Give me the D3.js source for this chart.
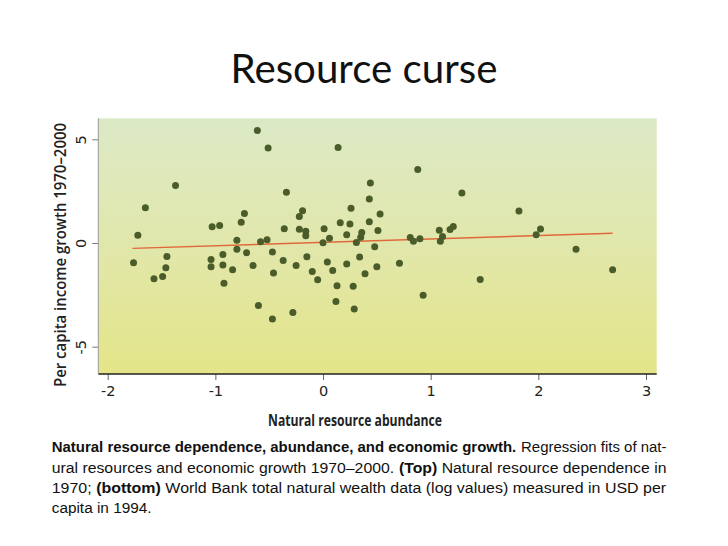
<!DOCTYPE html>
<html>
<head>
<meta charset="utf-8">
<script src="https://cdn.jsdelivr.net/npm/d3@7/dist/d3.min.js"></script>
<style>
  html, body { margin: 0; padding: 0; background: #ffffff; }
  svg { display: block; }
</style>
</head>
<body>
<svg id="chart" width="728" height="546"></svg>
<script>
// ---- data ----
const title = "Resource curse";
const xLabel = "Natural resource abundance";
const yLabel = "Per capita income growth 1970–2000";
const xTicks = [-2, -1, 0, 1, 2, 3];
const yTicks = [-5, 0, 5];

const abundance = [
  -0.61, -0.51, 0.14, 0.88, -1.37, -0.34, 0.44, 0.43, 1.29, -1.65,
  0.26, 1.82, -0.73, -0.19, -0.22, 0.53, -0.76, 0.16, 0.25, 0.43,
  -1.03, -0.96, -0.36, -0.22, -0.16, -0.16, 0.01, 0.06, 0.22, 0.36,
  0.35, 0.51, -1.72, -0.80, -0.58, -0.52, 0.00, 0.31, 0.81, 0.84,
  0.90, 1.08, 1.11, 1.09, 1.18, 1.21, 1.98, 2.02, 2.35, 2.69,
  -1.76, -1.45, -1.46, -1.57, -1.49, -1.04, -1.04, -0.93, -0.93, -0.92,
  -0.84, -0.80, -0.71, -0.65, -0.47, -0.46, -0.60, -0.47, -0.37, -0.25,
  -0.28, -0.15, -0.10, -0.05, 0.04, 0.09, 0.13, 0.12, 0.22, 0.28,
  0.29, 0.34, 0.39, 0.48, 0.50, 0.71, 0.93, 1.46
];
const growth = [
  5.43, 4.58, 4.61, 3.54, 2.77, 2.45, 2.89, 2.12, 2.41, 1.70,
  1.67, 1.54, 1.42, 1.56, 1.28, 1.40, 1.00, 0.98, 0.92, 1.03,
  0.78, 0.84, 0.69, 0.66, 0.57, 0.35, 0.69, 0.23, 0.40, 0.51,
  0.28, 0.60, 0.37, 0.13, 0.06, 0.16, 0.01, 0.03, 0.26, 0.08,
  0.21, 0.61, 0.31, 0.08, 0.65, 0.79, 0.40, 0.68, -0.30, -1.29,
  -0.95, -0.65, -1.19, -1.72, -1.61, -0.80, -1.15, -0.55, -1.06, -1.94,
  -1.29, -0.30, -0.47, -1.09, -0.43, -1.45, -3.01, -3.67, -0.84, -1.08,
  -3.35, -0.66, -1.37, -1.77, -0.92, -1.32, -2.06, -2.82, -1.01, -2.08,
  -3.18, -0.68, -1.48, -0.18, -1.14, -0.98, -2.52, -1.76
];
// regression fit end points
const fitX = [-1.77, 2.69];
const fitY = [-0.26, 0.47];

const captionLines = [
  [["Natural resource dependence, abundance, and economic growth.", true], ["Regression fits of nat-", false]],
  [["ural resources and economic growth 1970–2000.", false], ["(Top)", true], ["Natural resource dependence in", false]],
  [["1970;", false], ["(bottom)", true], ["World Bank total natural wealth data (log values) measured in USD per", false]],
  [["capita in 1994.", false]]
];

// ---- drawing ----
const svg = d3.select("#chart");
const plot = { left: 98.3, right: 656.7, top: 118.3, bottom: 374 };

const x = d3.scaleLinear().domain([-2, 3]).range([107.7, 646]);
const y = d3.scaleLinear().domain([-5, 5]).range([346.7, 139.3]);
const fmt = d => d < 0 ? "-" + Math.abs(d) : String(d);

// background gradient
const defs = svg.append("defs");
const grad = defs.append("linearGradient").attr("id", "bg")
  .attr("x1", 0).attr("y1", 0).attr("x2", 0).attr("y2", 1);
grad.append("stop").attr("offset", "0%").attr("stop-color", "#dce9c6");
grad.append("stop").attr("offset", "50%").attr("stop-color", "#e1e7ab");
grad.append("stop").attr("offset", "100%").attr("stop-color", "#e4e588");

svg.append("rect")
  .attr("x", plot.left).attr("y", plot.top)
  .attr("width", plot.right - plot.left).attr("height", plot.bottom - plot.top)
  .attr("fill", "url(#bg)");

// title
svg.append("text")
  .attr("x", 364).attr("y", 83.3)
  .attr("text-anchor", "middle")
  .attr("font-family", "Lato, 'Open Sans', sans-serif")
  .attr("font-size", 41)
  .attr("fill", "#111")
  .attr("textLength", 267).attr("lengthAdjust", "spacingAndGlyphs")
  .text(title);

// x axis
const xAxis = d3.axisBottom(x).tickValues(xTicks).tickSize(6).tickPadding(6)
  .tickFormat(fmt);
const gx = svg.append("g").attr("transform", `translate(0,${plot.bottom})`).call(xAxis);
gx.select(".domain").remove();
gx.selectAll(".tick line").attr("stroke", "#666");
gx.selectAll(".tick text")
  .attr("font-family", "'DejaVu Sans', Verdana, sans-serif")
  .attr("font-size", 14.5).attr("fill", "#222");
svg.append("line")
  .attr("x1", plot.left).attr("x2", plot.right)
  .attr("y1", plot.bottom).attr("y2", plot.bottom)
  .attr("stroke", "#222").attr("stroke-width", 1.3);

// y axis (tick labels rotated like the reference)
const yAxis = d3.axisLeft(y).tickValues(yTicks).tickSize(6).tickPadding(5).tickFormat(fmt);
const gy = svg.append("g").attr("transform", `translate(${plot.left},0)`).call(yAxis);
gy.select(".domain").remove();
gy.selectAll(".tick line").attr("stroke", "#777");
gy.selectAll(".tick text")
  .attr("font-family", "'DejaVu Sans', Verdana, sans-serif")
  .attr("font-size", 14.5).attr("fill", "#222")
  .attr("text-anchor", "middle")
  .attr("x", 0).attr("y", -12).attr("dy", 0)
  .attr("transform", "rotate(-90)");
svg.append("line")
  .attr("x1", plot.left).attr("x2", plot.left)
  .attr("y1", plot.top).attr("y2", plot.bottom)
  .attr("stroke", "#999").attr("stroke-width", 1);

// axis labels
svg.append("text")
  .attr("x", 355).attr("y", 426)
  .attr("text-anchor", "middle")
  .attr("font-family", "'Open Sans', 'Noto Sans', sans-serif")
  .attr("font-weight", 700)
  .attr("font-size", 15.5).attr("fill", "#222")
  .attr("textLength", 174).attr("lengthAdjust", "spacingAndGlyphs")
  .text(xLabel);

svg.append("text")
  .attr("transform", "translate(66,255) rotate(-90)")
  .attr("text-anchor", "middle")
  .attr("font-family", "'Open Sans', 'Noto Sans', sans-serif")
  .attr("font-weight", 600)
  .attr("font-size", 16).attr("fill", "#222")
  .attr("textLength", 264).attr("lengthAdjust", "spacingAndGlyphs")
  .text(yLabel);

// regression line
svg.append("line")
  .attr("x1", x(fitX[0])).attr("y1", y(fitY[0]))
  .attr("x2", x(fitX[1])).attr("y2", y(fitY[1]))
  .attr("stroke", "#e0683a").attr("stroke-width", 1.4);

// points
svg.append("g").selectAll("circle")
  .data(abundance.map((a, i) => [a, growth[i]]))
  .join("circle")
  .attr("cx", d => x(d[0])).attr("cy", d => y(d[1]))
  .attr("r", 3.5)
  .attr("fill", "#4a5c29");

// caption: each segment its own text; each line condensed to the narrow typeface width
const capY = [451.7, 472.5, 492.7, 512.5];
const capSize = 15.5;
const gap = capSize * 0.28;
let lineScale = 1;
captionLines.forEach((parts, i) => {
  const g = svg.append("g");
  let cx = 0;
  parts.forEach(([s, b], j) => {
    if (j > 0) cx += gap;
    const t = g.append("text")
      .attr("x", cx).attr("y", 0)
      .attr("font-family", "'Liberation Sans', Arial, sans-serif")
      .attr("font-size", capSize).attr("fill", "#111")
      .attr("font-weight", b ? "bold" : "normal")
      .text(s);
    cx += t.node().getComputedTextLength();
  });
  if (i < 3) lineScale = 615 / cx;
  const k = i < 3 ? 615 / cx : Math.min(lineScale, 100 / cx);
  g.attr("transform", `translate(51.7,${capY[i]}) scale(${k},1)`);
});
</script>
</body>
</html>
